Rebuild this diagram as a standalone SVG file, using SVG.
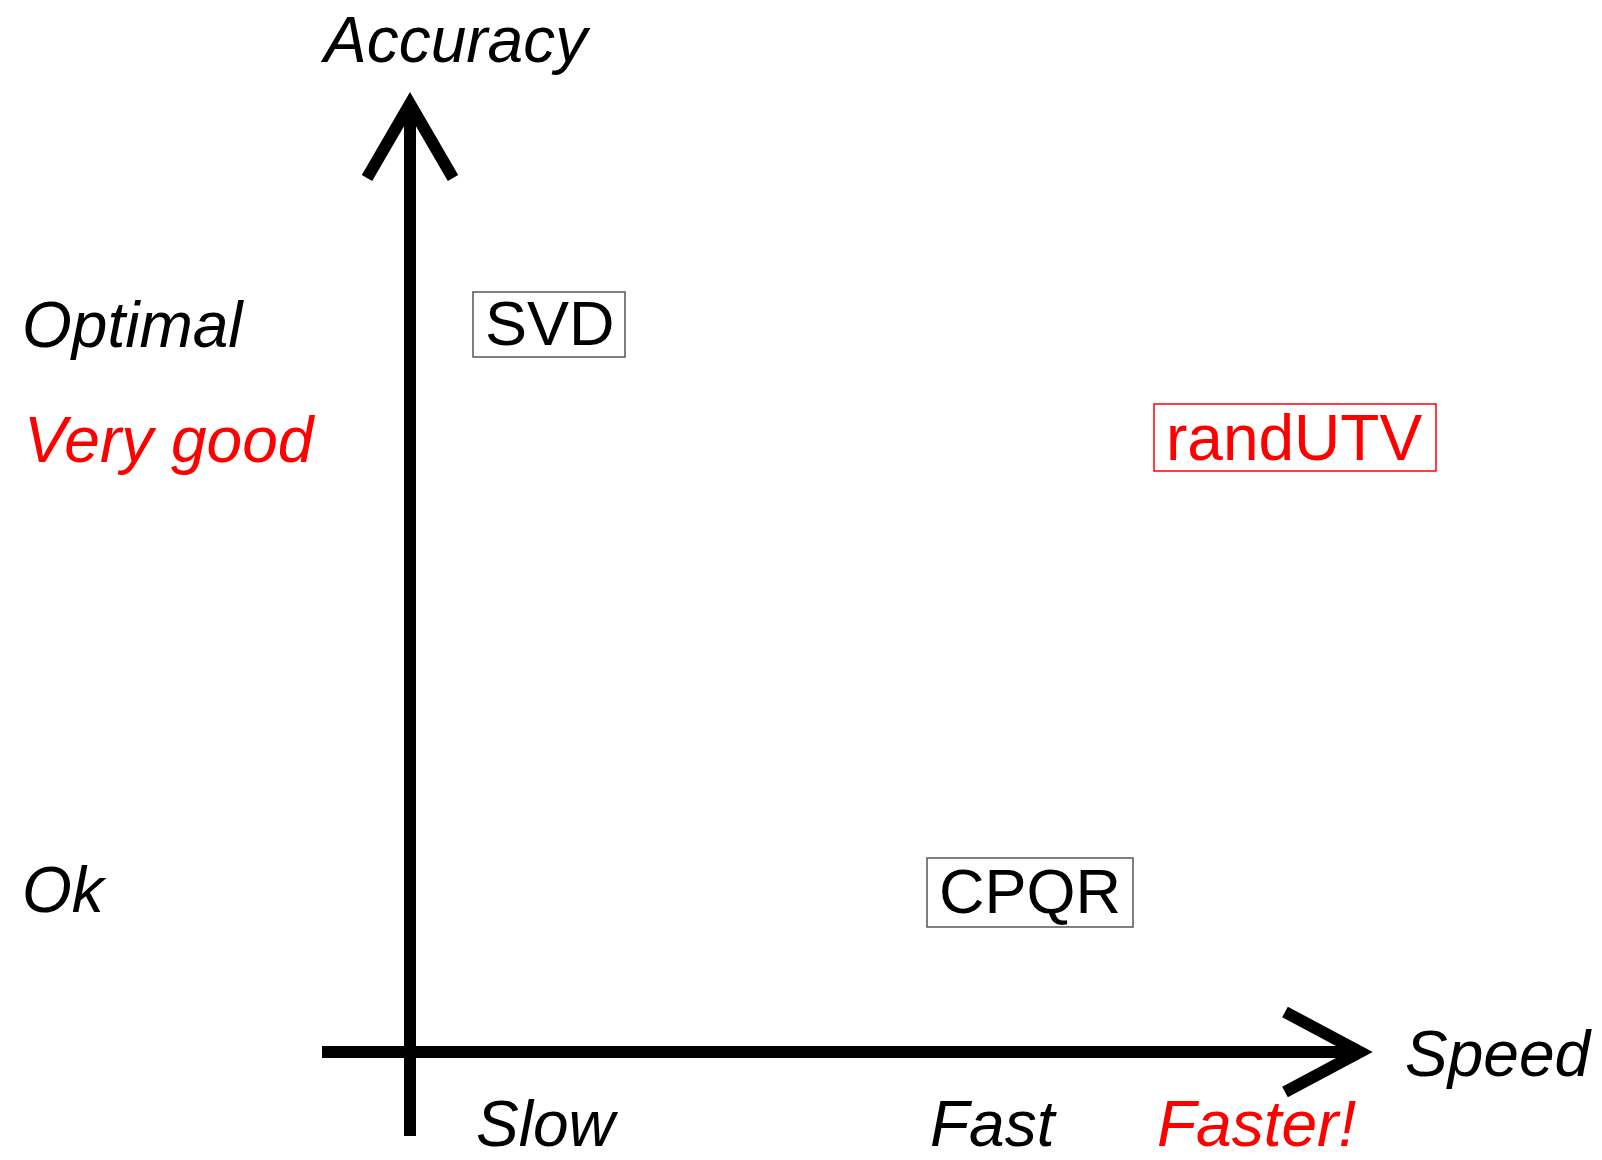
<svg xmlns="http://www.w3.org/2000/svg" width="1602" height="1160" viewBox="0 0 1602 1160">
<style>
.ax{stroke:#000;stroke-width:12;fill:none;stroke-linejoin:miter}
.lab{font-family:"Liberation Sans",Arial,sans-serif;font-size:64px;font-style:italic;fill:#000}
.nt{font-family:"Liberation Sans",Arial,sans-serif;font-size:63px;fill:#000}
.box{fill:#fff;stroke:#555;stroke-width:1.5}
.red{fill:#f00}
</style>
<rect width="1602" height="1160" fill="#fff"/>
<g id="connectors">
<line class="ax" x1="322" y1="1052" x2="1358" y2="1052"/>
<line class="ax" x1="410" y1="1136" x2="410" y2="106"/>
<polyline class="ax" points="367,178 410,104 453,178"/>
<polyline class="ax" points="1285,1012 1360,1052 1285,1092"/>
</g>
<g id="labels">
<text class="lab" x="324" y="62">Accuracy</text>
<text class="lab" x="22" y="347">Optimal</text>
<text class="lab red" x="24" y="462">Very good</text>
<text class="lab" x="22" y="912">Ok</text>
<text class="lab" x="1405" y="1076">Speed</text>
<text class="lab" x="476" y="1146">Slow</text>
<text class="lab" x="930" y="1146">Fast</text>
<text class="lab red" x="1157" y="1146">Faster!</text>
</g>
<g id="svd">
<rect class="box" x="473" y="292" width="152" height="65"/>
<text class="nt" x="485" y="345">SVD</text>
</g>
<g id="randutv">
<rect class="box" x="1154" y="404" width="282" height="67" style="stroke:#f00"/>
<text class="nt" x="1166" y="460" style="font-size:64px;fill:#f00">randUTV</text>
</g>
<g id="cpqr">
<rect class="box" x="927" y="858" width="206" height="69"/>
<text class="nt" x="939" y="913">CPQR</text>
</g>
</svg>
